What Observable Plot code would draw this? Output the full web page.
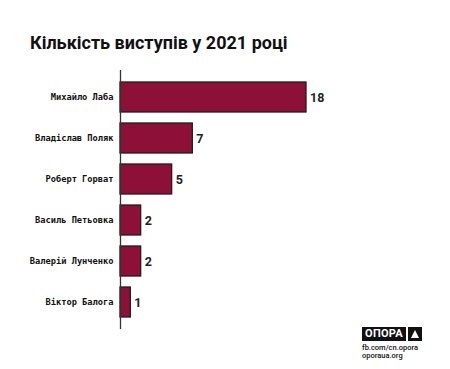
<!DOCTYPE html>
<html>
<head>
<meta charset="utf-8">
<script src="https://cdn.jsdelivr.net/npm/d3@7"></script>
<script src="https://cdn.jsdelivr.net/npm/@observablehq/plot@0.6"></script>
<style>
  html, body { margin: 0; padding: 0; background: #fff; }
  #wrap { position: relative; width: 450px; height: 369px; overflow: hidden; background: #fff; }
  #title { position: absolute; left: 30px; top: 32px; font-family: Roboto, "Noto Sans", sans-serif; font-weight: 700; font-size: 18px; color: #111; white-space: nowrap; }
  #chart { position: absolute; left: 0; top: 0; }
  #logo { position: absolute; left: 362px; top: 327px; font-family: Roboto, sans-serif; }
  #logo .box { display: flex; align-items: center; gap: 2px; }
  #logo .word { background: #111; color: #fff; font-weight: 700; font-size: 11px; letter-spacing: 0.3px; height: 14px; line-height: 14px; padding: 0 3px; }
  #logo .tri { background: #111; width: 14px; height: 14px; position: relative; }
  #logo .tri::after { content: ""; position: absolute; left: 3px; top: 3px; border-left: 4px solid transparent; border-right: 4px solid transparent; border-bottom: 8px solid #fff; }
  #logo .t { font-size: 7.5px; line-height: 8px; color: #111; font-weight: 500; }
</style>
</head>
<body>
<div id="wrap">
  <div id="chart"></div>
  <div id="title">Кількість виступів у 2021 році</div>
  <div id="logo">
    <div class="box"><div class="word">ОПОРА</div><div class="tri"></div></div>
    <div class="t" style="margin-top:3px">fb.com/cn.opora</div>
    <div class="t">oporaua.org</div>
  </div>
</div>
<script>
const names = ["Михайло Лаба", "Владіслав Поляк", "Роберт Горват", "Василь Петьовка", "Валерій Лунченко", "Віктор Балога"];
const counts = [18, 7, 5, 2, 2, 1];

const data = names.map((n, i) => ({name: n, value: counts[i]}));

const chart = Plot.plot({
  width: 450,
  height: 369,
  marginTop: 70,
  marginBottom: 40,
  marginLeft: 120,
  marginRight: 144,
  x: {domain: [0, 18], axis: null},
  y: {domain: names, paddingInner: 0.28, paddingOuter: 0.14, insetTop: 3.5, insetBottom: 4, label: null},
  style: {background: "transparent"},
  marks: [
    Plot.barX(data, {x: "value", y: "name", fill: "#8c1038", stroke: "#2a1a1e", strokeWidth: 1.3}),
    Plot.text(data, {x: "value", y: "name", text: d => String(d.value), dx: 3.5, textAnchor: "start",
      fontFamily: "Roboto, sans-serif", fontWeight: 700, fontSize: 12.5, fill: "#222"}),
    Plot.axisY({tickSize: 0, tickPadding: 7, fontFamily: "'DejaVu Sans Mono', monospace", fontWeight: 700, fontSize: 8.7, fill: "#111"}),
    Plot.ruleX([0], {stroke: "#333", strokeWidth: 1.3})
  ]
});
document.getElementById("chart").appendChild(chart);
</script>
</body>
</html>
